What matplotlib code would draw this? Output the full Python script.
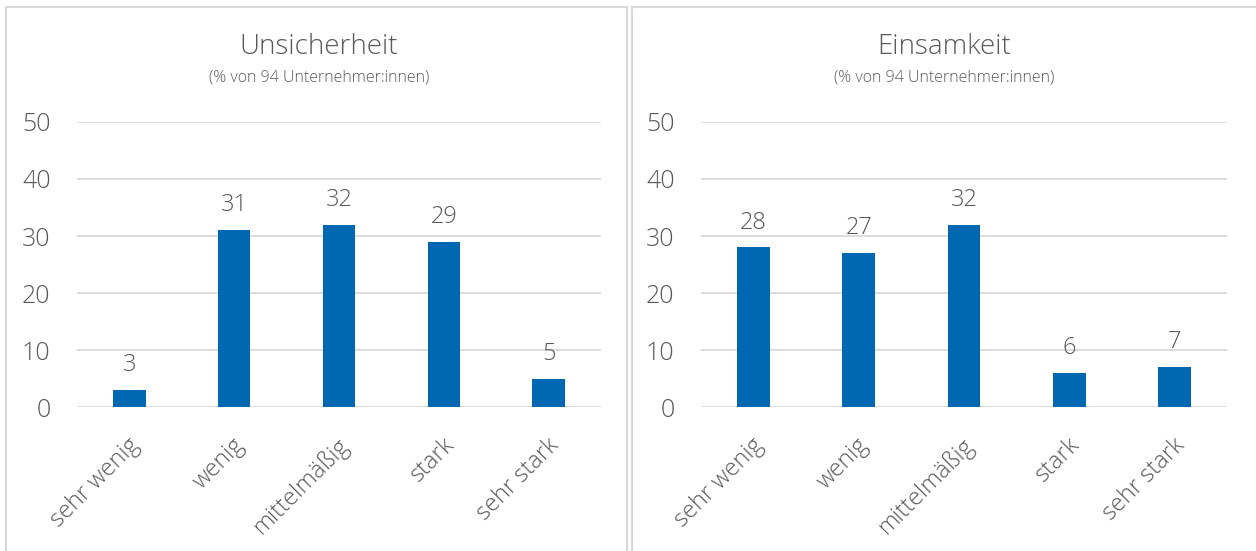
import matplotlib.pyplot as plt
from matplotlib.patches import Rectangle
from matplotlib.transforms import ScaledTranslation

categories = ["sehr wenig", "wenig", "mittelmäßig", "stark", "sehr stark"]
unsicherheit = [3, 31, 32, 29, 5]
einsamkeit = [28, 27, 32, 6, 7]
titles = ["Unsicherheit", "Einsamkeit"]
subtitle = "(% von 94 Unternehmer:innen)"

plt.rcParams['font.family'] = ['Open Sans', 'DejaVu Sans']
grey = '#595959'
blue = '#0068B3'

fig = plt.figure(figsize=(12.56, 5.51), dpi=100)

# panel frames
for x0, w in [(6, 621), (632, 640)]:
    fig.patches.append(Rectangle((x0 / 1256, -0.05), w / 1256, 1 - 7 / 551 + 0.05,
                                 transform=fig.transFigure, fill=False,
                                 edgecolor='#d9d9d9', linewidth=1.5))

def panel(left, width, values, title, cx):
    ax = fig.add_axes([left, 0.2613, width, 0.5173])
    x = range(len(categories))
    bars = ax.bar(x, values, width=0.31, color=blue, zorder=3)
    for b, v in zip(bars, values):
        ax.text(b.get_x() + b.get_width() / 2, v + 3.3, str(v), ha='center', va='baseline',
                fontsize=17, color=grey, fontweight='light')
    ax.set_ylim(0, 50)
    ax.set_xlim(-0.5, len(categories) - 0.5)
    ax.set_yticks(range(0, 51, 10))
    ax.yaxis.grid(True, color='#d9d9d9', linewidth=1.3, zorder=0)
    for s in ax.spines.values():
        s.set_visible(False)
    ax.tick_params(length=0, labelsize=18, colors=grey, pad=19)
    ax.tick_params(axis='x', pad=19)
    ax.set_xticks(list(x))
    ax.set_xticklabels(categories, rotation=45, ha='right', rotation_mode='anchor',
                       fontsize=17)
    shift = ScaledTranslation(-2 / 100, 0, fig.dpi_scale_trans)
    for lab in ax.get_xticklabels():
        lab.set_transform(lab.get_transform() + shift)
    for lab in ax.get_xticklabels() + ax.get_yticklabels():
        lab.set_fontweight('light')
    fig.text(cx, 1 - 47 / 551, title, ha='center', va='center', fontsize=20,
             color=grey, fontweight='light')
    fig.text(cx, 1 - 77 / 551, subtitle, ha='center', va='center', fontsize=11.5,
             color=grey, fontweight='light')

panel(77 / 1256, 524 / 1256, unsicherheit, titles[0], 319 / 1256)
panel(701 / 1256, 526 / 1256, einsamkeit, titles[1], 944 / 1256)

fig.savefig('out.png', dpi=100)
